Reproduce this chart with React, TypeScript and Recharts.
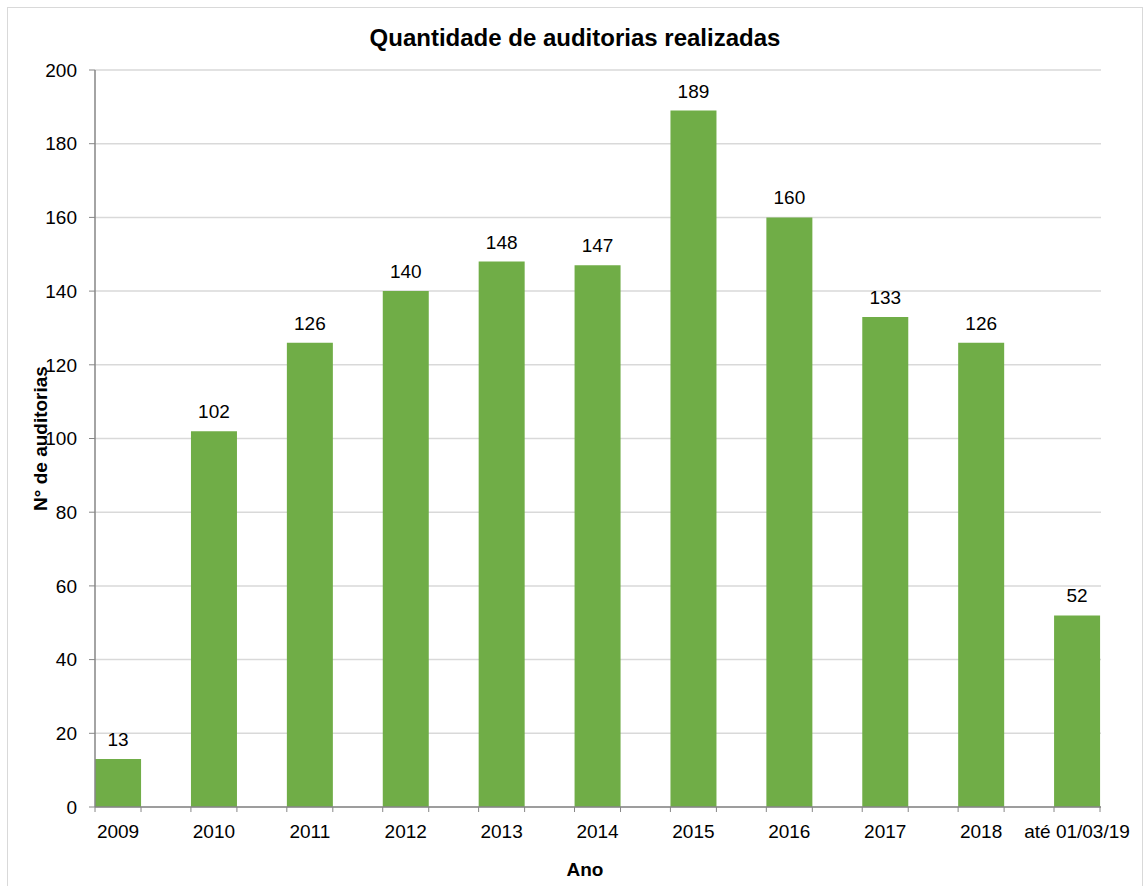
import { BarChart, Bar, XAxis, YAxis, CartesianGrid, LabelList, Label } from 'recharts';

const anos = ['2009', '2010', '2011', '2012', '2013', '2014', '2015', '2016', '2017', '2018', 'até 01/03/19'];
const auditorias = [13, 102, 126, 140, 148, 147, 189, 160, 133, 126, 52];
const yTicks = [0, 20, 40, 60, 80, 100, 120, 140, 160, 180, 200];
const xTicks = [0, 1, 2, 3, 4, 5, 6, 7, 8, 9, 10];

const data = anos.map((ano, i) => ({ i, ano, total: auditorias[i] }));

const FONT = '"Liberation Sans", Arial, sans-serif';
const AXIS = '#868686';
const BAR_W = 46;

// tick marks sit on both edges of each bar, like the Excel original
function AnoTick(props: any) {
  const { x, y, payload } = props;
  const half = BAR_W / 2;
  return (
    <g>
      <line x1={x - half} x2={x - half} y1={y - 18} y2={y - 13} stroke={AXIS} />
      <line x1={x + half} x2={x + half} y1={y - 18} y2={y - 13} stroke={AXIS} />
      <text x={x} y={y} dy="0.71em" textAnchor="middle" fill="#000" fontSize={19} fontFamily={FONT}>
        {anos[payload.value]}
      </text>
    </g>
  );
}

export default function App() {
  return (
    <div
      style={{
        position: 'absolute',
        left: 7,
        top: 7,
        width: 1134,
        height: 890,
        border: '1px solid #d9d9d9',
        background: '#fff',
        fontFamily: FONT,
      }}
    >
      <div
        style={{
          position: 'absolute',
          top: 18,
          left: 0,
          width: 1134,
          textAlign: 'center',
          fontSize: 24,
          lineHeight: '24px',
          fontWeight: 700,
          color: '#000',
        }}
      >
        Quantidade de auditorias realizadas
      </div>
      <BarChart width={1134} height={880} data={data} margin={{ top: 62, right: 41, left: 27, bottom: 41 }}>
        <CartesianGrid horizontal vertical={false} stroke="#d9d9d9" strokeWidth={1.5} />
        <XAxis
          type="number"
          dataKey="i"
          domain={[-0.24, 10.25]}
          allowDataOverflow
          ticks={xTicks}
          interval={0}
          height={40}
          axisLine={{ stroke: AXIS, strokeWidth: 1.5 }}
          tickLine={false}
          tickSize={5}
          tickMargin={13}
          tick={<AnoTick />}
        >
          <Label
            value="Ano"
            position="bottom"
            offset={16}
            dx={-13}
            style={{ fontFamily: FONT, fontSize: 19, fontWeight: 700, fill: '#000' }}
          />
        </XAxis>
        <YAxis
          domain={[0, 200]}
          ticks={yTicks}
          width={60}
          interval={0}
          axisLine={{ stroke: AXIS, strokeWidth: 1.5 }}
          tickLine={{ stroke: AXIS }}
          tickSize={6}
          tickMargin={12}
          tick={{ fill: '#000', fontSize: 19, fontFamily: FONT }}
        >
          <Label
            value="N° de auditorias"
            angle={-90}
            position="insideLeft"
            offset={5}
            style={{ textAnchor: 'middle', fontFamily: FONT, fontSize: 19, fontWeight: 700, fill: '#000' }}
          />
        </YAxis>
        <Bar dataKey="total" fill="#70ad47" barSize={BAR_W} isAnimationActive={false}>
          <LabelList
            dataKey="total"
            position="top"
            offset={13}
            style={{ fill: '#000', fontSize: 19, fontFamily: FONT }}
          />
        </Bar>
      </BarChart>
    </div>
  );
}
